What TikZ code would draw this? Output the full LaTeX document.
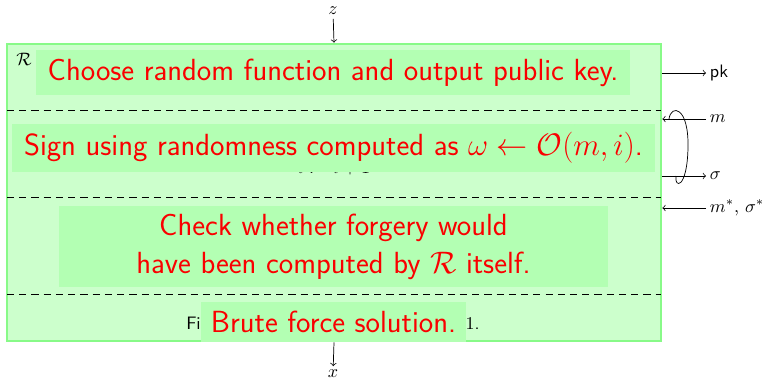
\documentclass[tikz,border=0pt]{standalone}
\definecolor{boxLine}{RGB}{136, 250, 136}
\definecolor{boxFill}{RGB}{204, 255, 204}
\definecolor{noteFill}{RGB}{179, 255, 179}
\definecolor{noteRed}{RGB}{250, 0, 0}
\usepackage{amsmath,amssymb}
\usepackage{tikz}
\usetikzlibrary{positioning, calc}

\begin{document}
\begin{tikzpicture}[
    x=0.5556pt, y=-0.5556pt,
    reduction/.style={rectangle, draw=boxLine, line width=1.5pt, fill=boxFill,
                      minimum width=363.3pt, minimum height=165pt},
    phase/.style={dash pattern=on 4pt off 2.8pt, line width=0.5pt},
    note/.style={rectangle, fill=noteFill, text=noteRed, inner xsep=6.5pt,
                 minimum height=25pt, align=center,
                 font=\fontsize{17}{21}\selectfont\sffamily},
    io/.style={inner sep=2pt, font=\normalsize},
  ]
    \useasboundingbox (0,0) rectangle (770,379);

    % the reduction R and its phases
    \node[reduction] (R) at (334,192.5) {};
    \node[inner sep=0pt] (Rname) at (24,59) {$\mathcal{R}$};
    \draw[phase] (7,110) -- (661,110);
    \draw[phase] (7,197) -- (661,197);
    \draw[phase] (7,294) -- (661,294);

    % text underneath the notes
    \node[io] (inc) at (334,168) {$i := i + 1$};
    \node[io, font=\sffamily] (find) at (333,326) {Find $x$ such that $\mathsf{Verify}_{\mathsf{pk}}(m^*, \sigma^*) = 1$.};

    % inputs and outputs
    \node[io] (z) at (333,11) {$z$};
    \node[io] (x) at (333,374) {$x$};
    \node[io, anchor=west, font=\sffamily] (pk) at (706,73) {pk};
    \node[io, anchor=west] (m) at (706,119) {$m$};
    \node[io, anchor=west] (sig) at (706,176) {$\sigma$};
    \node[io, anchor=west] (forge) at (706,208) {$m^*$, $\sigma^*$};

    \draw[->] (z) -- (R.north);
    \draw[->] (R.south) -- (x);
    \draw[->] (R.east |- pk.west) -- (pk.west);
    \draw[->] (m.west) -- (R.east |- m.west);
    \draw[->] (R.east |- sig.west) -- (sig.west);
    \draw[->] (forge.west) -- (R.east |- forge.west);
    \draw (669,119) .. controls (671,104) and (689,106) .. (688,148)
                    .. controls (687,190) and (674,188) .. (676,176);

    % notes on top
    \node[note] (keygen) at (333,72.5) {Choose random function and output public key.};
    \node[note, minimum height=26.7pt] (sign) at (333.5,148) {Sign using randomness computed as $\omega \leftarrow \mathcal{O}(m,i)$.};
    \node[note, minimum width=305pt, minimum height=45pt] (check) at (333.5,246.5) {Check whether forgery would\\have been computed by $\mathcal{R}$ itself.};
    \node[note, inner xsep=5.5pt, minimum height=22.2pt] (brute) at (333.5,322) {Brute force solution.};
  \end{tikzpicture}
\end{document}
